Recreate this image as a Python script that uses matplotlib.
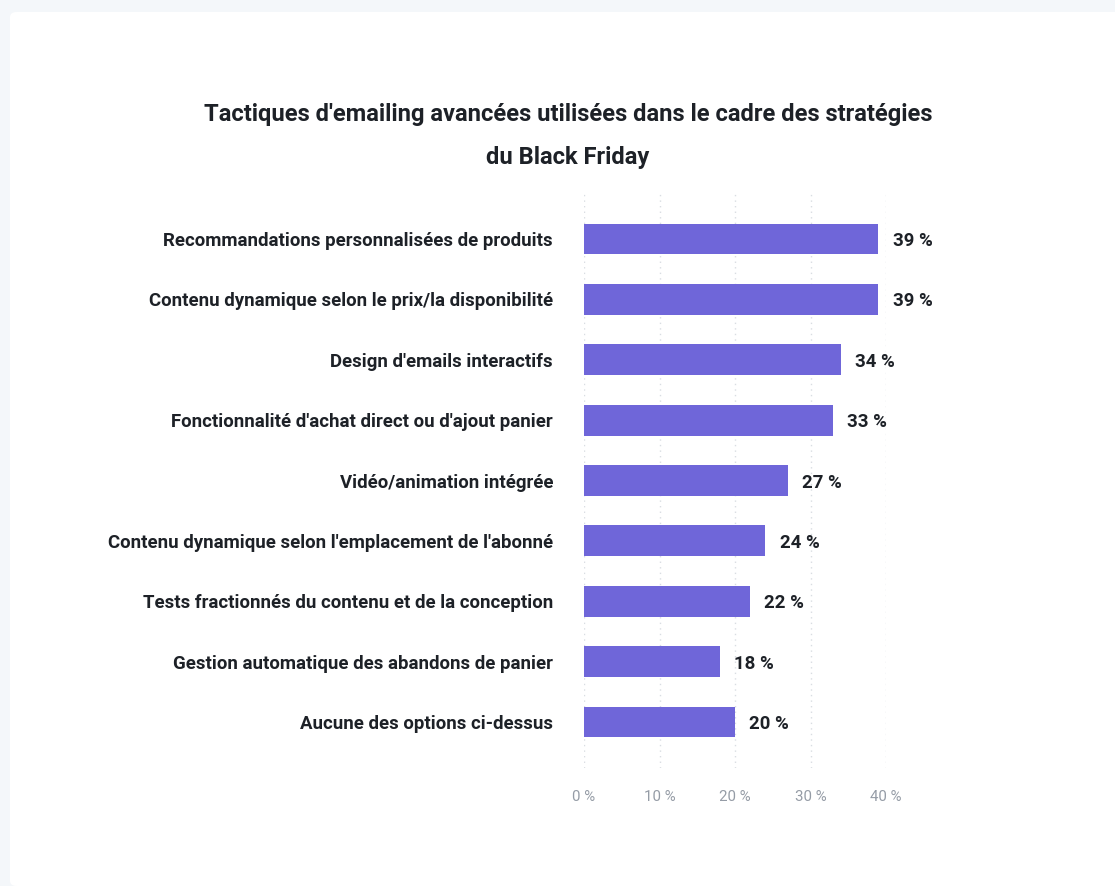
import matplotlib.pyplot as plt
from matplotlib.patches import FancyBboxPatch

categories = [
    "Recommandations personnalisées de produits",
    "Contenu dynamique selon le prix/la disponibilité",
    "Design d'emails interactifs",
    "Fonctionnalité d'achat direct ou d'ajout panier",
    "Vidéo/animation intégrée",
    "Contenu dynamique selon l'emplacement de l'abonné",
    "Tests fractionnés du contenu et de la conception",
    "Gestion automatique des abandons de panier",
    "Aucune des options ci-dessus",
]
values = [39, 39, 34, 33, 27, 24, 22, 18, 20]
ticks = [0, 10, 20, 30, 40]
title = "Tactiques d'emailing avancées utilisées dans le cadre des stratégies\ndu Black Friday"

plt.rcParams['font.family'] = ['Roboto', 'DejaVu Sans']

W, H = 1115, 886
fig = plt.figure(figsize=(W / 100, H / 100), dpi=100)
fig.patch.set_facecolor('#f4f7fa')

# white card behind everything
card = FancyBboxPatch((10 / W, 0), 1.2, (H - 12) / H, boxstyle="round,pad=0,rounding_size=0.006",
                      transform=fig.transFigure, facecolor='white', edgecolor='none', zorder=-5)
fig.patches.append(card)

left, right = 584 / W, 886 / W
top, bottom = 1 - 193 / H, 1 - 768 / H
ax = fig.add_axes([left, bottom, right - left, top - bottom])
ax.set_zorder(2)
ax.set_facecolor('none')

y = list(range(len(categories)))
ax.barh(y, values, height=0.51, color='#6f66d9', zorder=2)
ax.set_xlim(0, 40)
ax.set_ylim(8.76, -0.76)

for yi, v in zip(y, values):
    ax.text(v + 1.9, yi, f"{v} %", va='center_baseline', ha='left', fontsize=13.4,
            fontweight='bold', color='#1d2127')

ax.set_yticks(y)
ax.set_yticklabels(categories, fontsize=13.4, fontweight='bold', color='#1d2127')
ax.tick_params(axis='y', length=0, pad=22.3)
ax.set_xticks(ticks)
ax.set_xticklabels([f"{t} %" for t in ticks], fontsize=10.8, color='#959ca6')
ax.tick_params(axis='x', length=0, pad=16)

ax.grid(axis='x', color='#d9dde2', linestyle=(0, (1, 3)), linewidth=1, zorder=1)
for s in ax.spines.values():
    s.set_visible(False)

fig.text(568 / W, 1 - 136 / H, title, ha='center', va='center', fontsize=17.1,
         fontweight='bold', color='#1d2127', linespacing=2.1)

fig.savefig('out.png', dpi=100, facecolor=fig.get_facecolor())
